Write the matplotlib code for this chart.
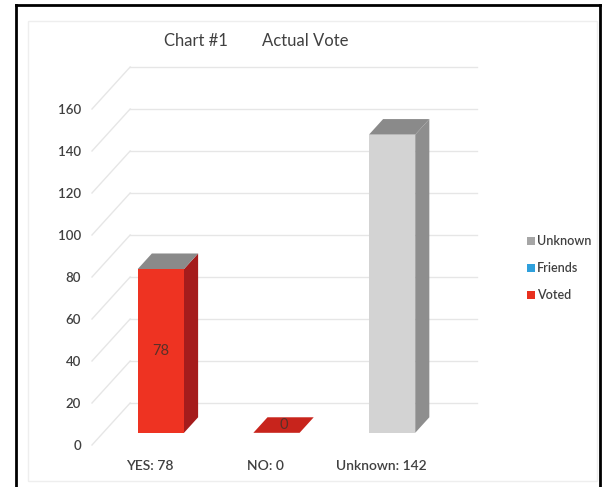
import matplotlib.pyplot as plt
from matplotlib.patches import Polygon, Patch, Rectangle
from matplotlib.lines import Line2D

categories = ['YES: 78', 'NO: 0', 'Unknown: 142']
votes = [78, 0, 142]
y_ticks = [0, 20, 40, 60, 80, 100, 120, 140, 160]
legend_labels = ['Unknown', 'Friends', 'Voted']

front_colors = ['#ee3322', '#c8241c', '#d3d3d3']
side_colors = ['#a51c1c', '#a51c1c', '#8e8e8e']
top_colors = ['#8a8a8a', '#c8241c', '#8a8a8a']
legend_colors = ['#a6a6a6', '#2fa0dc', '#e8301e']

plt.rcParams['font.family'] = ['Lato', 'DejaVu Sans']
text_color = '#404040'

# oblique depth of the walls (x in category units, y in value units)
DX, DY = 0.33, 20
BAR_W = 0.4
D_FRONT, D_BACK = 0.29, 0.66

fig = plt.figure(figsize=(6.11, 4.87), dpi=100)
fig.patch.set_facecolor('white')
ax = fig.add_axes([92 / 611, 42 / 487, 385 / 611, 378 / 487])
ax.set_xlim(0, 3 + DX)
ax.set_ylim(0, 160 + DY)

# side wall diagonals and back wall gridlines
for t in y_ticks:
    ax.plot([0, DX], [t, t + DY], color='#e6e6e6', lw=1, clip_on=False, zorder=1)
    ax.plot([DX, 3 + DX], [t + DY, t + DY], color='#e6e6e6', lw=1, clip_on=False, zorder=1)

ddx = (D_BACK - D_FRONT) * DX
ddy = (D_BACK - D_FRONT) * DY
for i, v in enumerate(votes):
    x0 = i + 0.5 - BAR_W / 2 + D_FRONT * DX
    y0 = D_FRONT * DY
    x1 = x0 + BAR_W
    side = [(x1, y0), (x1 + ddx, y0 + ddy), (x1 + ddx, y0 + ddy + v), (x1, y0 + v)]
    top = [(x0, y0 + v), (x1, y0 + v), (x1 + ddx, y0 + v + ddy), (x0 + ddx, y0 + v + ddy)]
    ax.add_patch(Polygon(side, closed=True, facecolor=side_colors[i], edgecolor='none', zorder=3))
    ax.add_patch(Polygon(top, closed=True, facecolor=top_colors[i], edgecolor='none', zorder=3))
    if v > 0:
        ax.add_patch(Rectangle((x0, y0), BAR_W, v, facecolor=front_colors[i],
                               edgecolor='none', zorder=4))

# value labels on the red bars
for i in (0, 1):
    x0 = i + 0.5 - BAR_W / 2 + D_FRONT * DX
    y0 = D_FRONT * DY
    if votes[i] > 0:
        ax.text(x0 + BAR_W / 2, y0 + votes[i] / 2, str(votes[i]), ha='center', va='center',
                fontsize=10.5, color='#5a3028', zorder=5)
    else:
        ax.text(x0 + BAR_W / 2 + ddx / 2, y0 + ddy / 2, str(votes[i]), ha='center', va='center',
                fontsize=10.5, color='#5a3028', zorder=5)

ax.set_yticks(y_ticks)
ax.set_yticklabels([str(t) for t in y_ticks])
ax.set_xticks([0.5, 1.5, 2.5])
ax.set_xticklabels(categories)
ax.tick_params(axis='y', length=0, pad=8, labelsize=9.5, labelcolor=text_color)
ax.tick_params(axis='x', length=0, pad=11, labelsize=10, labelcolor=text_color)
for lbl in ax.get_yticklabels() + ax.get_xticklabels():
    lbl.set_fontweight('semibold')
for s in ax.spines.values():
    s.set_visible(False)
ax.set_facecolor('none')

fig.text(196 / 611, 1 - 41 / 487, 'Chart #1', ha='center', va='center',
         fontsize=12, color=text_color)
fig.text(305 / 611, 1 - 41 / 487, 'Actual Vote', ha='center', va='center',
         fontsize=12, color=text_color)

handles = [Patch(facecolor=c, edgecolor='none', label=l)
           for c, l in zip(legend_colors, legend_labels)]
leg = fig.legend(handles=handles, loc='center left', bbox_to_anchor=(527 / 611, 1 - 268 / 487),
                 frameon=False, handlelength=0.6, handleheight=0.6, handletextpad=0.2,
                 labelspacing=1.2, fontsize=9, labelcolor=text_color,
                 borderpad=0, borderaxespad=0)
for t in leg.get_texts():
    t.set_fontweight('semibold')

# outer frame
fig.add_artist(Rectangle((28 / 611, 6 / 487), 569 / 611, 460 / 487,
                         transform=fig.transFigure, fill=False,
                         edgecolor='#eeeeee', lw=1))
top_y = 1 - 5 / 487
fig.add_artist(Line2D([16 / 611, 16 / 611], [0, top_y], color='black', lw=2))
fig.add_artist(Line2D([600 / 611, 600 / 611], [0, top_y], color='black', lw=2))
fig.add_artist(Line2D([16 / 611, 600 / 611], [top_y, top_y], color='black', lw=2))

fig.savefig('out.png', dpi=100)
